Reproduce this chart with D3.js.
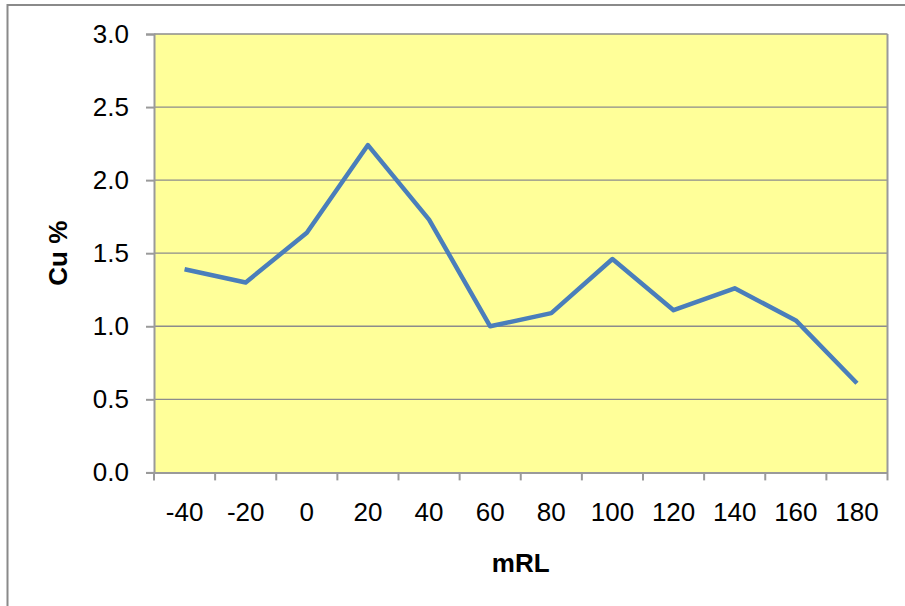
<!DOCTYPE html>
<html><head><meta charset="utf-8">
<script src="https://cdn.jsdelivr.net/npm/d3@7"></script>
<style>body{margin:0;background:#fff}svg{display:block}text{font-family:Arial,"Liberation Sans",sans-serif}</style>
</head><body><svg id="c" width="905" height="606"></svg>
<script>
const categories = ["-40","-20","0","20","40","60","80","100","120","140","160","180"];
const cuValues = [1.39,1.30,1.64,2.24,1.73,1.00,1.09,1.46,1.11,1.26,1.04,0.61];
const yTicks = [0,0.5,1.0,1.5,2.0,2.5,3.0];

const svg = d3.select("#c");
const L=154, R=887.5, T=34, B=472.4;
const FS = 26;
// outer chart frame
svg.append("rect").attr("x",7.5).attr("y",5).attr("width",1000).attr("height",1000)
  .attr("fill","#fff").attr("stroke","#8a8a8a").attr("stroke-width",2);

const x = d3.scaleBand().domain(categories).range([L,R]).padding(0);
const y = d3.scaleLinear().domain([0,3]).range([B,T]);

svg.append("rect").attr("x",L).attr("y",T).attr("width",R-L).attr("height",B-T).attr("fill","#ffff99");

// gridlines
svg.append("g").selectAll("line").data(yTicks.filter(d=>d>0)).join("line")
  .attr("x1",L).attr("x2",R).attr("y1",d=>y(d)).attr("y2",d=>y(d))
  .attr("stroke","#8c8c8c").attr("stroke-width",1.3);

// plot border right
svg.append("line").attr("x1",R).attr("x2",R).attr("y1",T).attr("y2",B).attr("stroke","#9a9a9a").attr("stroke-width",2);

// y axis
const ya = svg.append("g").attr("transform",`translate(${L},0)`)
  .call(d3.axisLeft(y).tickValues(yTicks).tickFormat(d3.format(".1f")).tickSize(8).tickPadding(17));
ya.select(".domain").attr("stroke","#9a9a9a").attr("stroke-width",2);
ya.selectAll(".tick line").attr("stroke","#9a9a9a").attr("stroke-width",2);
ya.selectAll("text").attr("font-size",FS).attr("fill","#000").attr("font-family","Arial, 'Liberation Sans', sans-serif");

// x axis
const xa = svg.append("g").attr("transform",`translate(0,${B})`)
  .call(d3.axisBottom(x).tickSize(0).tickPadding(30));
xa.select(".domain").attr("stroke","#9a9a9a").attr("stroke-width",2);
xa.selectAll("text").attr("font-size",FS).attr("fill","#000").attr("font-family","Arial, 'Liberation Sans', sans-serif");
// category boundary ticks
const bounds = categories.map(c=>x(c)).concat([R]);
svg.append("g").selectAll("line").data(bounds).join("line")
  .attr("x1",d=>d).attr("x2",d=>d).attr("y1",B).attr("y2",B+8)
  .attr("stroke","#9a9a9a").attr("stroke-width",2);

// line
const line = d3.line().x((d,i)=>x(categories[i])+x.bandwidth()/2).y(d=>y(d));
svg.append("path").datum(cuValues).attr("d",line).attr("fill","none")
  .attr("stroke","#4a7ebb").attr("stroke-width",4.5).attr("stroke-linejoin","round");

// axis titles
svg.append("text").attr("x",(L+R)/2).attr("y",572).attr("text-anchor","middle")
  .attr("font-size",FS).attr("font-weight","bold").text("mRL");
svg.append("text").attr("transform",`translate(67,${(T+B)/2}) rotate(-90)`).attr("text-anchor","middle")
  .attr("font-size",FS).attr("font-weight","bold").text("Cu %");
</script></body></html>
